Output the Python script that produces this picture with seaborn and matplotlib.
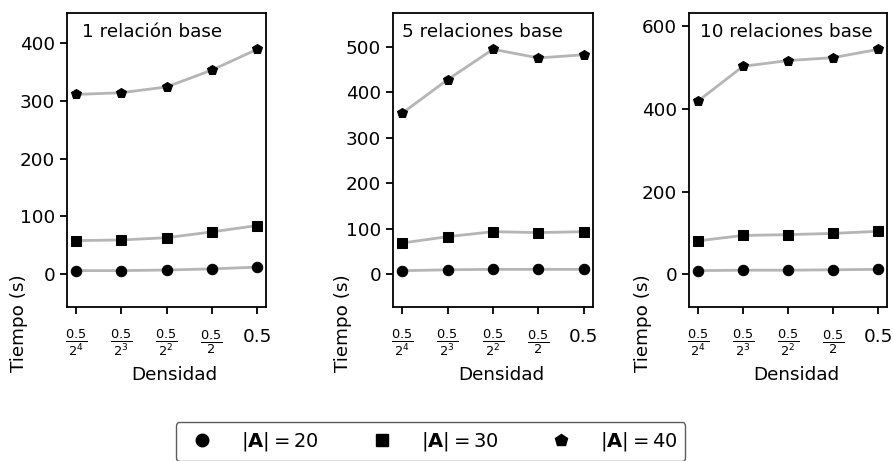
import matplotlib

matplotlib.use("Agg")

import matplotlib.pyplot as plt
import pandas as pd
import seaborn as sns
from matplotlib.lines import Line2D

sns.set_theme(style="ticks", context="notebook")
plt.rcParams["font.family"] = ["DejaVu Sans"]
plt.rcParams.update({
    "text.color": "black",
    "axes.labelcolor": "black",
    "xtick.color": "black",
    "ytick.color": "black",
})

# densities on the x axis and their tick labels
densities = [0.5 / 16, 0.5 / 8, 0.5 / 4, 0.5 / 2, 0.5]
density_labels = [r"$\frac{0.5}{2^4}$", r"$\frac{0.5}{2^3}$", r"$\frac{0.5}{2^2}$", r"$\frac{0.5}{2}$", "0.5"]

panel_titles = ["1 relación base", "5 relaciones base", "10 relaciones base"]
sizes = [20, 30, 40]
size_labels = [r"$|\mathbf{A}| = 20$", r"$|\mathbf{A}| = 30$", r"$|\mathbf{A}| = 40$"]
markers = ["o", "s", "p"]

# time (s) per panel, per |A|
time_1 = {20: [6, 6, 7, 9, 12], 30: [58, 59, 63, 73, 84], 40: [311, 314, 324, 353, 389]}
time_5 = {20: [7, 9, 10, 10, 10], 30: [68, 82, 93, 91, 93], 40: [354, 428, 495, 476, 483]}
time_10 = {20: [9, 10, 10, 11, 12], 30: [81, 94, 96, 99, 104], 40: [419, 503, 517, 524, 544]}
panel_times = [time_1, time_5, time_10]

y_ticks = [[0, 100, 200, 300, 400], [0, 100, 200, 300, 400, 500], [0, 200, 400, 600]]
y_limits = [(-57, 452), (-73, 575), (-79, 632)]

# layout (figure fractions / axes fractions)
axes_rects = [
    (67 / 895, 154 / 461, 199 / 895, 294 / 461),
    (393 / 895, 154 / 461, 200 / 895, 294 / 461),
    (689 / 895, 154 / 461, 198 / 895, 294 / 461),
]
title_x = [0.075, 0.045, 0.056]
ylabel_x = [-0.196, -0.205, -0.187]
FS = 13.2

fig = plt.figure(figsize=(8.95, 4.61), dpi=100)

for i, times in enumerate(panel_times):
    ax = fig.add_axes(axes_rects[i])
    df = pd.DataFrame(
        [(d, s, t) for s in sizes for d, t in zip(densities, times[s])],
        columns=["density", "size", "time"],
    )
    sns.lineplot(
        data=df,
        x="density",
        y="time",
        style="size",
        markers=dict(zip(sizes, markers)),
        dashes=False,
        color="#b5b5b5",
        linewidth=2,
        markersize=7.5,
        markerfacecolor="black",
        markeredgecolor="black",
        legend=False,
        ax=ax,
    )
    ax.set_xscale("log", base=2)
    ax.set_xticks(densities)
    ax.set_xticklabels(density_labels)
    ax.minorticks_off()
    ax.set_yticks(y_ticks[i])
    ax.set_ylim(*y_limits[i])
    ax.tick_params(axis="both", labelsize=FS, length=5, width=1.3)
    ax.tick_params(axis="x", pad=10)
    for sp in ax.spines.values():
        sp.set_linewidth(1.3)
        sp.set_color("black")
    ax.set_xlabel("Densidad", fontsize=FS)
    ax.set_ylabel("Tiempo (s)", fontsize=FS)
    ax.xaxis.set_label_coords(0.54, -0.20)
    ax.yaxis.set_label_coords(ylabel_x[i], -0.054)
    ax.text(title_x[i], 0.935, panel_titles[i], transform=ax.transAxes,
            ha="left", va="center", fontsize=FS)

handles = [
    Line2D([], [], marker=m, linestyle="none", color="black", markersize=9)
    for m in markers
]
fig.legend(
    handles,
    size_labels,
    loc="upper center",
    bbox_to_anchor=(0.481, 0.105),
    ncol=3,
    fontsize=14,
    frameon=True,
    edgecolor="#333333",
    fancybox=True,
    handlelength=1.95,
    handletextpad=1.03,
    columnspacing=2.26,
)

fig.savefig("out.png", dpi=100)
